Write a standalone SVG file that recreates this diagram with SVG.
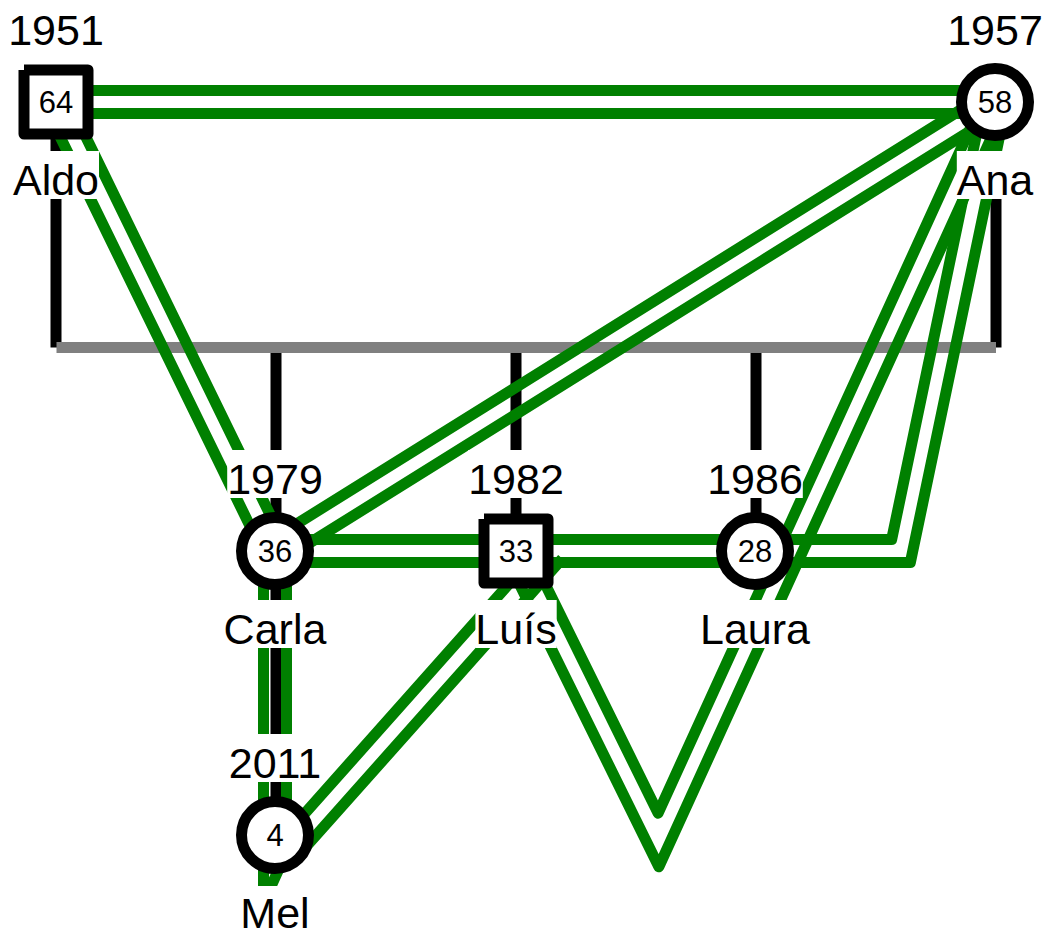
<svg xmlns="http://www.w3.org/2000/svg" width="1053" height="936" viewBox="0 0 1053 936">
<style>
.bk{stroke:#000;stroke-width:11;fill:none}
.bar{stroke:#808080;stroke-width:11;fill:none}
.gr{stroke:#008000;stroke-width:11;fill:none;stroke-linejoin:round}
.box{fill:#fff}
.lbl{font-family:"Liberation Sans",Arial,sans-serif;font-size:43px;fill:#000;text-anchor:middle}
.num{font-family:"Liberation Sans",Arial,sans-serif;font-size:31px;fill:#000;text-anchor:middle}
.nd{fill:#fff;stroke:#000;stroke-width:11;stroke-linejoin:round}
</style>
<g id="connectors">
<g id="family-lines">
<path class="bk" d="M56 102V347.5M996 102V347.5M276 347.5V551M516 347.5V551M756 347.5V551M276 551V835"/>
<path class="bar" d="M56.5 347.5H996"/>
</g>
<g id="relations">
<path class="gr" d="M56 90.5H995M56 113.5H995"/>
<path class="gr" d="M45.66 107.04L264.66 556.04M66.34 96.96L285.34 545.96"/>
<path class="gr" d="M988.92 92.24L268.92 541.24M1001.08 111.76L281.08 560.76"/>
<path class="gr" d="M275 539.5H516M275 562.5H516"/>
<path class="gr" d="M516 539.5H755M516 562.5H755"/>
<path class="gr" d="M755 539.5L891.65 539.5L983.74 99.64M755 562.5L910.35 562.5L1006.26 104.36"/>
<path class="gr" d="M526.31 545.92L658.08 813.18L984.54 97.23M505.69 556.09L658.89 866.82L1005.46 106.77"/>
<path class="gr" d="M263.5 551V892M286.5 551V835"/>
<path class="gr" d="M545.1 543.35L292.4 827.35M562.3 558.65L298 855.7L282 862L268 893"/>
</g>
</g>
<g id="node-aldo">
<rect class="box" x="8.2" y="1" width="95.6" height="48"/><text class="lbl" x="56" y="45">1951</text>
<rect class="box" x="13" y="151" width="86" height="48"/><text class="lbl" x="56" y="195">Aldo</text>
<path class="nd" d="M24 70H88V134H24V70"/><text class="num" x="56" y="113">64</text>
</g>
<g id="node-ana">
<rect class="box" x="947.2" y="1" width="95.6" height="48"/><text class="lbl" x="995" y="45">1957</text>
<rect class="box" x="956.8" y="151" width="76.5" height="48"/><text class="lbl" x="995" y="195">Ana</text>
<circle class="nd" cx="995" cy="102" r="33.5"/><text class="num" x="995" y="113">58</text>
</g>
<g id="node-carla">
<rect class="box" x="227.2" y="450" width="95.6" height="48"/><text class="lbl" x="275" y="494">1979</text>
<rect class="box" x="223.6" y="600" width="102.7" height="48"/><text class="lbl" x="275" y="644">Carla</text>
<circle class="nd" cx="275" cy="551" r="33.5"/><text class="num" x="275" y="562">36</text>
</g>
<g id="node-luis">
<rect class="box" x="468.2" y="450" width="95.6" height="48"/><text class="lbl" x="516" y="494">1982</text>
<rect class="box" x="475.4" y="600" width="81.3" height="48"/><text class="lbl" x="516" y="644">Luís</text>
<path class="nd" d="M484 519H548V583H484V519"/><text class="num" x="516" y="562">33</text>
</g>
<g id="node-laura">
<rect class="box" x="707.2" y="450" width="95.6" height="48"/><text class="lbl" x="755" y="494">1986</text>
<rect class="box" x="700" y="600" width="110" height="48"/><text class="lbl" x="755" y="644">Laura</text>
<circle class="nd" cx="755" cy="551" r="33.5"/><text class="num" x="755" y="562">28</text>
</g>
<g id="node-mel">
<rect class="box" x="227.2" y="734" width="95.6" height="48"/><text class="lbl" x="275" y="778">2011</text>
<rect class="box" x="240.4" y="886" width="69.3" height="48"/><text class="lbl" x="275" y="928">Mel</text>
<circle class="nd" cx="275" cy="835" r="33.5"/><text class="num" x="275" y="846">4</text>
</g>
</svg>
